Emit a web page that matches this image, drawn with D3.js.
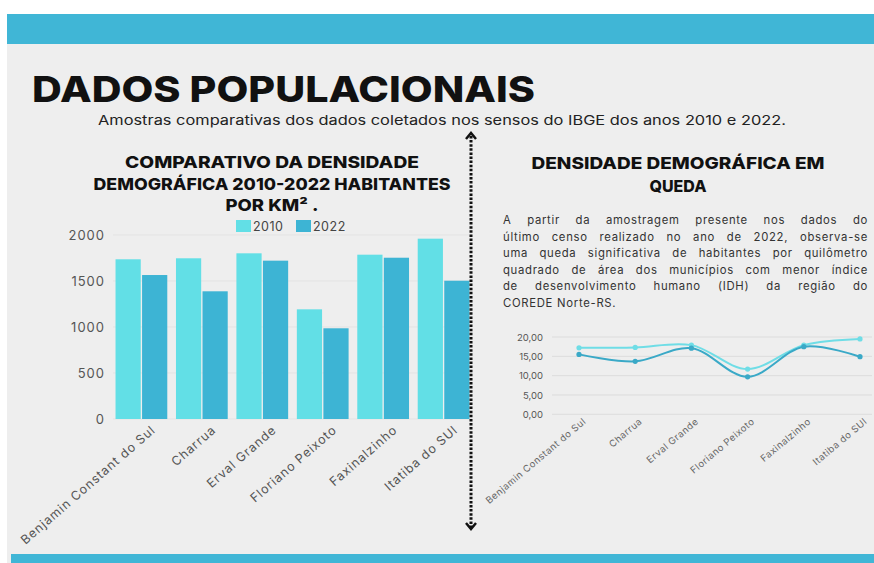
<html>
<head>
  <title>Dados Populacionais</title>
  <script src="https://d3js.org/d3.v7.min.js"></script>
  <style>
    body { margin: 0; background: #fff; }
    svg text { font-family: Inter, "Open Sans", sans-serif; }
  </style>
</head>
<body>
  <div id="chart"></div>
  <script type="text/javascript">

    // municipios + densidades
    var cidades = ["Benjamin Constant do Sul", "Charrua", "Erval Grande", "Floriano Peixoto", "Faxinalzinho", "Itatiba do SUl"];
    var dens2010 = [1736, 1747, 1801, 1192, 1786, 1960];
    var dens2022 = [1565, 1388, 1721, 986, 1753, 1503];
    var barTicks = [0, 500, 1000, 1500, 2000];

    var linha2010 = [17.2, 17.3, 17.9, 11.7, 17.9, 19.5];
    var linha2022 = [15.5, 13.7, 17.1, 9.7, 17.5, 14.9];
    var lineTicks = [0, 5, 10, 15, 20];

    var paragrafo = [
      "A partir da amostragem presente nos dados do",
      "último censo realizado no ano de 2022, observa-se",
      "uma queda significativa de habitantes por quilômetro",
      "quadrado de área dos municípios com menor índice",
      "de  desenvolvimento humano (IDH) da região do",
      "COREDE Norte-RS."
    ];

    var c2010 = "#62dfe6", c2022 = "#3db4d4";
    var W = 874, H = 563;

    var svg = d3.select("#chart").append("svg")
        .attr("width", W).attr("height", H);

    // fundo e faixas
    svg.append("rect").attr("x", 7).attr("y", 14).attr("width", W - 7).attr("height", H - 14).attr("fill", "#eeeeee");
    svg.append("rect").attr("x", 7).attr("y", 14).attr("width", W - 7).attr("height", 30).attr("fill", "#40b6d6");
    svg.append("rect").attr("x", 11).attr("y", 554).attr("width", W - 11).attr("height", 9).attr("fill", "#40b6d6");

    svg.append("text").text("DADOS POPULACIONAIS")
        .attr("x", 32).attr("y", 102)
        .attr("textLength", 503).attr("lengthAdjust", "spacingAndGlyphs")
        .style("font-size", "36px").style("font-weight", 800).style("fill", "#111");

    svg.append("text").text("Amostras comparativas dos dados coletados nos sensos do IBGE dos anos 2010 e 2022.")
        .attr("x", 98).attr("y", 125)
        .attr("textLength", 688).attr("lengthAdjust", "spacingAndGlyphs")
        .style("font-size", "13px").style("fill", "#222");

    function titulo(linhas, larguras, cx, y0, dy) {
      linhas.forEach(function(t, i) {
        svg.append("text").text(t)
          .attr("x", cx - larguras[i] / 2).attr("y", y0 + i * dy)
          .attr("textLength", larguras[i]).attr("lengthAdjust", "spacingAndGlyphs")
          .style("font-size", "16.5px").style("font-weight", 800).style("fill", "#111");
      });
    }

    // ---- grafico de barras ----
    titulo(["COMPARATIVO DA DENSIDADE", "DEMOGRÁFICA 2010-2022 HABITANTES", "POR KM² ."],
           [294, 357, 93], 272, 168, 21.5);

    var x0 = d3.scaleBand().domain(cidades).range([113, 472]).paddingInner(0.1).paddingOuter(0.02);
    var x1 = d3.scaleBand().domain(["2010", "2022"]).range([0, x0.bandwidth()]).padding(0.05);
    var y = d3.scaleLinear().domain([0, 2000]).range([419, 235]);

    svg.append("g").selectAll("line").data(barTicks).enter().append("line")
        .attr("x1", 113).attr("x2", 472)
        .attr("y1", function(d) { return y(d); }).attr("y2", function(d) { return y(d); })
        .attr("stroke", "#e3e3e3");

    var yAxis = svg.append("g").attr("transform", "translate(113,0)")
        .call(d3.axisLeft(y).tickValues(barTicks).tickSize(0).tickPadding(8).tickFormat(d3.format("d")));
    yAxis.select(".domain").remove();
    yAxis.selectAll("text").style("font-size", "13px").style("fill", "#555").style("letter-spacing", "1px");

    var grupos = svg.append("g").selectAll("g").data(cidades).enter().append("g")
        .attr("transform", function(d) { return "translate(" + x0(d) + ",0)"; });

    grupos.append("rect")
        .attr("x", x1("2010")).attr("width", x1.bandwidth())
        .attr("y", function(d, i) { return y(dens2010[i]); })
        .attr("height", function(d, i) { return 419 - y(dens2010[i]); })
        .attr("fill", c2010);
    grupos.append("rect")
        .attr("x", x1("2022")).attr("width", x1.bandwidth())
        .attr("y", function(d, i) { return y(dens2022[i]); })
        .attr("height", function(d, i) { return 419 - y(dens2022[i]); })
        .attr("fill", c2022);

    var xAxis = svg.append("g").attr("transform", "translate(0,419)")
        .call(d3.axisBottom(x0).tickSize(0).tickPadding(0));
    xAxis.select(".domain").remove();
    xAxis.selectAll("text")
        .attr("text-anchor", "end")
        .attr("transform", "translate(12,9) rotate(-41)")
        .attr("dy", "0.35em")
        .style("font-size", "12.5px").style("fill", "#555").style("letter-spacing", "0.9px");

    // legenda
    var leg = svg.append("g");
    [["2010", c2010, 236], ["2022", c2022, 296]].forEach(function(l) {
      leg.append("rect").attr("x", l[2]).attr("y", 220).attr("width", 15).attr("height", 12).attr("fill", l[1]);
      leg.append("text").text(l[0]).attr("x", l[2] + 17).attr("y", 231)
        .style("font-size", "12.5px").style("fill", "#444").style("letter-spacing", "0.5px");
    });

    // seta pontilhada
    svg.append("line")
        .attr("x1", 471).attr("x2", 471).attr("y1", 136).attr("y2", 527)
        .attr("stroke", "#111").attr("stroke-width", 3).attr("stroke-dasharray", "2.5,1.6");
    svg.append("path").attr("d", "M466,139 L471,133 L476,139").attr("fill", "none")
        .attr("stroke", "#111").attr("stroke-width", 2.5);
    svg.append("path").attr("d", "M466,523 L471,529 L476,523").attr("fill", "none")
        .attr("stroke", "#111").attr("stroke-width", 2.5);

    // ---- lado direito ----
    titulo(["DENSIDADE DEMOGRÁFICA EM", "QUEDA"], [293, 57], 678, 169, 23);

    // paragrafo justificado
    var px0 = 503, px1 = 868;
    paragrafo.forEach(function(linha, i) {
      var yy = 224 + i * 16.6;
      var g = svg.append("g");
      var words = linha.split(/\s+/);
      var last = i === paragrafo.length - 1;
      var nodes = words.map(function(w) {
        return g.append("text").text(w).attr("y", yy)
          .style("font-size", "11.3px").style("fill", "#333").style("letter-spacing", "0.7px");
      });
      var widths = nodes.map(function(n) { return n.node().getComputedTextLength(); });
      var total = d3.sum(widths);
      var gap = last ? 4 : (px1 - px0 - total) / (words.length - 1);
      var cx = px0;
      nodes.forEach(function(n, k) { n.attr("x", cx); cx += widths[k] + gap; });
    });

    // grafico de linhas
    var xp = d3.scalePoint().domain(cidades).range([579, 860]);
    var yl = d3.scaleLinear().domain([0, 20]).range([414.3, 337]);

    svg.append("g").selectAll("line").data(lineTicks).enter().append("line")
        .attr("x1", 552).attr("x2", 872)
        .attr("y1", function(d) { return yl(d); }).attr("y2", function(d) { return yl(d); })
        .attr("stroke", "#dcdcdc");

    var ylAxis = svg.append("g").attr("transform", "translate(552,0)")
        .call(d3.axisLeft(yl).tickValues(lineTicks).tickSize(0).tickPadding(9)
          .tickFormat(function(d) { return d3.format(".2f")(d).replace(".", ","); }));
    ylAxis.select(".domain").remove();
    ylAxis.selectAll("text").style("font-size", "9.5px").style("fill", "#555");

    var line = d3.line()
        .x(function(d, i) { return xp(cidades[i]); })
        .y(function(d) { return yl(d); })
        .curve(d3.curveCatmullRom.alpha(0.5));

    [[linha2010, "#6fdde6"], [linha2022, "#3aa9c7"]].forEach(function(s) {
      svg.append("path").datum(s[0]).attr("d", line)
        .attr("fill", "none").attr("stroke", s[1]).attr("stroke-width", 2);
      svg.append("g").selectAll("circle").data(s[0]).enter().append("circle")
        .attr("cx", function(d, i) { return xp(cidades[i]); })
        .attr("cy", function(d) { return yl(d); })
        .attr("r", 2.6).attr("fill", s[1]);
    });

    var xlAxis = svg.append("g").attr("transform", "translate(0,414)")
        .call(d3.axisBottom(xp).tickSize(0).tickPadding(0));
    xlAxis.select(".domain").remove();
    xlAxis.selectAll("text")
        .attr("text-anchor", "end")
        .attr("transform", "translate(5,6) rotate(-40)")
        .attr("dy", "0.35em")
        .style("font-size", "9.5px").style("fill", "#666").style("letter-spacing", "0.5px");

  </script>
</body>
</html>
